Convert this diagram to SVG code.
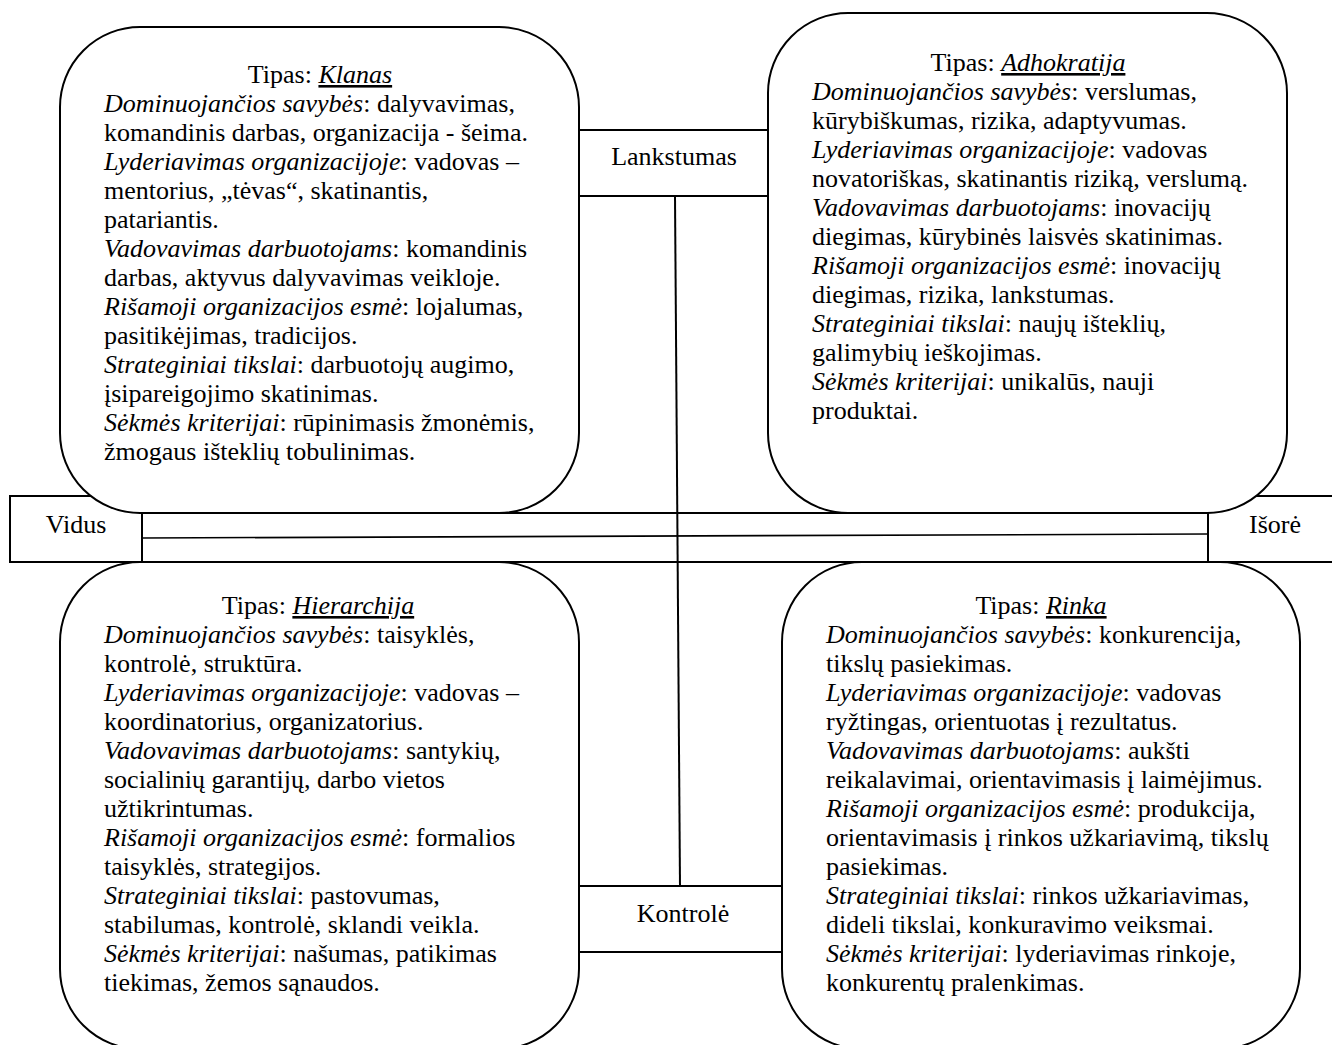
<svg xmlns="http://www.w3.org/2000/svg" width="1332" height="1045" viewBox="0 0 1332 1045">
  <style>
    .frame { fill: #fff; stroke: #000; stroke-width: 2; }
    .line { fill: none; stroke: #000; stroke-width: 2; }
    .thin { fill: none; stroke: #000; stroke-width: 1.6; }
    text { font-family: "Liberation Serif", "Times New Roman", serif; font-size: 26px; fill: #000; }
    .c { text-anchor: middle; }
    .i { font-style: italic; }
    .u { font-style: italic; text-decoration: underline; }
  </style>
  <rect x="0" y="0" width="1332" height="1045" fill="#fff"/>

  <!-- axis end labels (drawn first so the quadrants overlap them) -->
  <g id="vidus">
    <rect class="frame" x="10" y="496" width="132" height="66"/>
    <text class="c" x="76" y="533">Vidus</text>
  </g>
  <g id="isore">
    <rect class="frame" x="1208" y="496" width="134" height="66"/>
    <text class="c" x="1275" y="533">Išorė</text>
  </g>

  <!-- connectors: horizontal band and the two axis lines -->
  <g id="connectors">
    <line class="line" x1="142" y1="513" x2="1208" y2="513"/>
    <line class="line" x1="142" y1="562" x2="1208" y2="562"/>
    <line class="thin" x1="142" y1="538" x2="1208" y2="534"/>
    <line class="line" x1="675" y1="196" x2="680" y2="886"/>
  </g>

  <!-- quadrant: Klanas -->
  <g id="klanas">
    <rect class="frame" x="60" y="27" width="519" height="486" rx="80" ry="80"/>
    <text class="c" x="320" y="83">Tipas: <tspan class="u">Klanas</tspan></text>
    <text x="104" y="112"><tspan class="i">Dominuojančios savybės</tspan>: dalyvavimas,</text>
    <text x="104" y="141">komandinis darbas, organizacija - šeima.</text>
    <text x="104" y="170"><tspan class="i">Lyderiavimas organizacijoje</tspan>: vadovas –</text>
    <text x="104" y="199">mentorius, „tėvas“, skatinantis,</text>
    <text x="104" y="228">patariantis.</text>
    <text x="104" y="257"><tspan class="i">Vadovavimas darbuotojams</tspan>: komandinis</text>
    <text x="104" y="286">darbas, aktyvus dalyvavimas veikloje.</text>
    <text x="104" y="315"><tspan class="i">Rišamoji organizacijos esmė</tspan>: lojalumas,</text>
    <text x="104" y="344">pasitikėjimas, tradicijos.</text>
    <text x="104" y="373"><tspan class="i">Strateginiai tikslai</tspan>: darbuotojų augimo,</text>
    <text x="104" y="402">įsipareigojimo skatinimas.</text>
    <text x="104" y="431"><tspan class="i">Sėkmės kriterijai</tspan>: rūpinimasis žmonėmis,</text>
    <text x="104" y="460">žmogaus išteklių tobulinimas.</text>
  </g>

  <!-- quadrant: Adhokratija -->
  <g id="adhokratija">
    <rect class="frame" x="768" y="13" width="519" height="500" rx="80" ry="80"/>
    <text class="c" x="1028" y="71">Tipas: <tspan class="u">Adhokratija</tspan></text>
    <text x="812" y="100"><tspan class="i">Dominuojančios savybės</tspan>: verslumas,</text>
    <text x="812" y="129">kūrybiškumas, rizika, adaptyvumas.</text>
    <text x="812" y="158"><tspan class="i">Lyderiavimas organizacijoje</tspan>: vadovas</text>
    <text x="812" y="187">novatoriškas, skatinantis riziką, verslumą.</text>
    <text x="812" y="216"><tspan class="i">Vadovavimas darbuotojams</tspan>: inovacijų</text>
    <text x="812" y="245">diegimas, kūrybinės laisvės skatinimas.</text>
    <text x="812" y="274"><tspan class="i">Rišamoji organizacijos esmė</tspan>: inovacijų</text>
    <text x="812" y="303">diegimas, rizika, lankstumas.</text>
    <text x="812" y="332"><tspan class="i">Strateginiai tikslai</tspan>: naujų išteklių,</text>
    <text x="812" y="361">galimybių ieškojimas.</text>
    <text x="812" y="390"><tspan class="i">Sėkmės kriterijai</tspan>: unikalūs, nauji</text>
    <text x="812" y="419">produktai.</text>
  </g>

  <!-- quadrant: Hierarchija -->
  <g id="hierarchija">
    <rect class="frame" x="60" y="562" width="519" height="487" rx="80" ry="80"/>
    <text class="c" x="318" y="614">Tipas: <tspan class="u">Hierarchija</tspan></text>
    <text x="104" y="643"><tspan class="i">Dominuojančios savybės</tspan>: taisyklės,</text>
    <text x="104" y="672">kontrolė, struktūra.</text>
    <text x="104" y="701"><tspan class="i">Lyderiavimas organizacijoje</tspan>: vadovas –</text>
    <text x="104" y="730">koordinatorius, organizatorius.</text>
    <text x="104" y="759"><tspan class="i">Vadovavimas darbuotojams</tspan>: santykių,</text>
    <text x="104" y="788">socialinių garantijų, darbo vietos</text>
    <text x="104" y="817">užtikrintumas.</text>
    <text x="104" y="846"><tspan class="i">Rišamoji organizacijos esmė</tspan>: formalios</text>
    <text x="104" y="875">taisyklės, strategijos.</text>
    <text x="104" y="904"><tspan class="i">Strateginiai tikslai</tspan>: pastovumas,</text>
    <text x="104" y="933">stabilumas, kontrolė, sklandi veikla.</text>
    <text x="104" y="962"><tspan class="i">Sėkmės kriterijai</tspan>: našumas, patikimas</text>
    <text x="104" y="991">tiekimas, žemos sąnaudos.</text>
  </g>

  <!-- quadrant: Rinka -->
  <g id="rinka">
    <rect class="frame" x="782" y="562" width="518" height="487" rx="80" ry="80"/>
    <text class="c" x="1041" y="614">Tipas: <tspan class="u">Rinka</tspan></text>
    <text x="826" y="643"><tspan class="i">Dominuojančios savybės</tspan>: konkurencija,</text>
    <text x="826" y="672">tikslų pasiekimas.</text>
    <text x="826" y="701"><tspan class="i">Lyderiavimas organizacijoje</tspan>: vadovas</text>
    <text x="826" y="730">ryžtingas, orientuotas į rezultatus.</text>
    <text x="826" y="759"><tspan class="i">Vadovavimas darbuotojams</tspan>: aukšti</text>
    <text x="826" y="788">reikalavimai, orientavimasis į laimėjimus.</text>
    <text x="826" y="817"><tspan class="i">Rišamoji organizacijos esmė</tspan>: produkcija,</text>
    <text x="826" y="846">orientavimasis į rinkos užkariavimą, tikslų</text>
    <text x="826" y="875">pasiekimas.</text>
    <text x="826" y="904"><tspan class="i">Strateginiai tikslai</tspan>: rinkos užkariavimas,</text>
    <text x="826" y="933">dideli tikslai, konkuravimo veiksmai.</text>
    <text x="826" y="962"><tspan class="i">Sėkmės kriterijai</tspan>: lyderiavimas rinkoje,</text>
    <text x="826" y="991">konkurentų pralenkimas.</text>
  </g>

  <!-- axis labels on the vertical axis -->
  <g id="lankstumas">
    <rect class="frame" x="579" y="130" width="189" height="66"/>
    <text class="c" x="674" y="165">Lankstumas</text>
  </g>
  <g id="kontrole">
    <rect class="frame" x="579" y="886" width="203" height="66"/>
    <text class="c" x="683" y="922">Kontrolė</text>
  </g>
</svg>
